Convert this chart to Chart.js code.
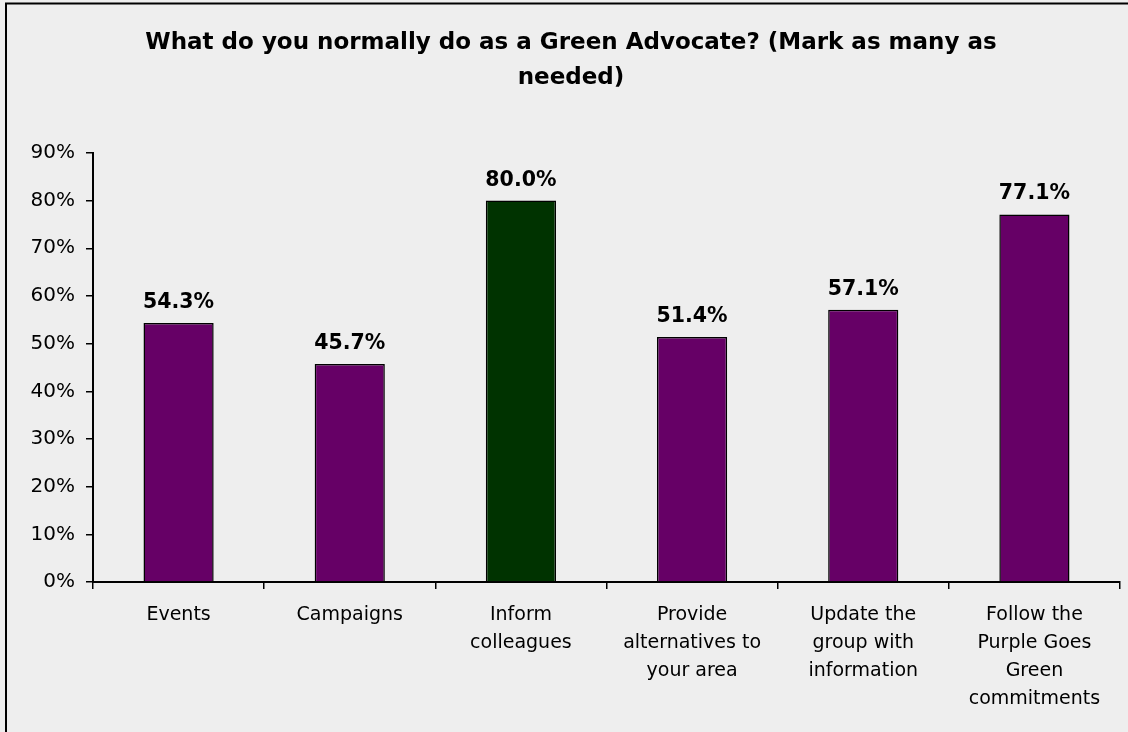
<!DOCTYPE html>
<html>
<head>
<meta charset="utf-8">
<script src="https://cdn.jsdelivr.net/npm/chart.js@4/dist/chart.umd.min.js"></script>
<style>
  html,body{margin:0;padding:0;background:#eeeeee;}
  #wrap{width:1128px;height:732px;position:relative;}
</style>
</head>
<body>
<div id="wrap"><canvas id="advocateChart" width="1128" height="732"></canvas></div>
<script>
  // ---- data
  const TITLE_LINES = ['What do you normally do as a Green Advocate? (Mark as many as', 'needed)'];
  const CATEGORIES = [
    ['Events'],
    ['Campaigns'],
    ['Inform', 'colleagues'],
    ['Provide', 'alternatives to', 'your area'],
    ['Update the', 'group with', 'information'],
    ['Follow the', 'Purple Goes', 'Green', 'commitments']
  ];
  const VALUES = [54.3, 45.7, 80.0, 51.4, 57.1, 77.1];
  const BAR_COLORS = ['#660066', '#660066', '#003300', '#660066', '#660066', '#660066'];
  const Y_MAX = 90;
  const Y_STEP = 10;

  const FONT = '"DejaVu Sans", Verdana, sans-serif';

  // background + frame (only top/left edge visible in the original crop)
  const frame = {
    id: 'frame',
    beforeDraw(chart){
      const c = chart.ctx;
      c.save();
      c.fillStyle = '#eeeeee';
      c.fillRect(0, 0, chart.width, chart.height);
      c.strokeStyle = '#000';
      c.lineWidth = 2;
      c.strokeRect(6, 3.5, chart.width + 10, chart.height + 10);
      c.restore();
    }
  };

  // value labels above bars
  const valueLabels = {
    id: 'valueLabels',
    afterDatasetsDraw(chart){
      const c = chart.ctx;
      const meta = chart.getDatasetMeta(0);
      c.save();
      c.font = 'bold 20.5px ' + FONT;
      c.fillStyle = '#000';
      c.textAlign = 'center';
      c.textBaseline = 'alphabetic';
      meta.data.forEach((bar, i) => {
        c.fillText(VALUES[i].toFixed(1) + '%', bar.x, bar.y - 15);
      });
      c.restore();
    }
  };

  new Chart(document.getElementById('advocateChart'), {
    type: 'bar',
    data: {
      labels: CATEGORIES,
      datasets: [{
        data: VALUES,
        backgroundColor: BAR_COLORS,
        borderColor: '#000',
        borderWidth: 1.5,
        borderSkipped: 'bottom',
        barPercentage: 0.41,
        categoryPercentage: 1
      }]
    },
    options: {
      responsive: false,
      animation: false,
      layout: { padding: { left: 22, right: 8, top: 0, bottom: 0 } },
      plugins: {
        legend: { display: false },
        tooltip: { enabled: false },
        title: {
          display: true,
          text: TITLE_LINES,
          color: '#000',
          font: { family: FONT, size: 23, weight: 'bold', lineHeight: 1.52 },
          padding: { top: 26, bottom: 57 }
        }
      },
      scales: {
        x: {
          offset: true,
          grid: { display: true, offset: true, drawOnChartArea: false, drawTicks: true, tickLength: 7, color: '#000', lineWidth: 1.5 },
          border: { display: true, color: '#000', width: 2 },
          ticks: { color: '#000', padding: 12, maxRotation: 0, autoSkip: false, font: { family: FONT, size: 19, lineHeight: 1.47 } },
          afterFit(scale){ scale.height = 150; }
        },
        y: {
          min: 0,
          max: Y_MAX,
          grid: { display: true, drawOnChartArea: false, drawTicks: true, tickLength: 7, color: '#000', lineWidth: 1.5 },
          border: { display: true, color: '#000', width: 2 },
          ticks: {
            stepSize: Y_STEP,
            color: '#000',
            padding: 11,
            font: { family: FONT, size: 20 },
            callback: v => v + '%'
          },
          afterFit(scale){ scale.width = 71; }
        }
      }
    },
    plugins: [frame, valueLabels]
  });
</script>
</body>
</html>
